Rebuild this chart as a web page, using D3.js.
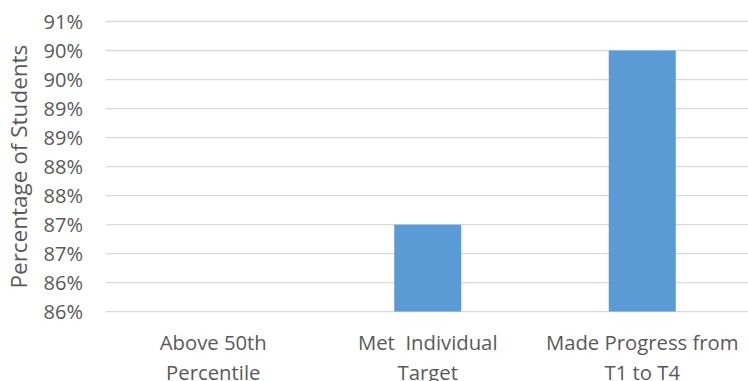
<!DOCTYPE html>
<html><head><meta charset="utf-8">
<script src="https://cdn.jsdelivr.net/npm/d3@7"></script>
<style>body{margin:0;background:#fff}svg{display:block}</style>
</head><body>
<script>
const categories = [["Above 50th","Percentile"],["Met  Individual","Target"],["Made Progress from","T1 to T4"]];
const values = [0.85, 0.87, 0.90];
const tickValues = [0.855,0.86,0.865,0.87,0.875,0.88,0.885,0.89,0.895,0.90,0.905];
const tickLabels = ["86%","86%","87%","87%","88%","88%","89%","89%","90%","90%","91%"];

const W = 748, H = 381;
const pLeft = 106, pRight = 749.5, pTop = 21.5, pBottom = 311.7;
const font = "'Open Sans', sans-serif";
const textColor = "#595959";

const svg = d3.select("body").append("svg").attr("width", W).attr("height", H);

const x = d3.scaleBand().domain(d3.range(categories.length)).range([pLeft, pRight])
  .paddingInner(0.6876).paddingOuter(0.3438);
const y = d3.scaleLinear().domain([0.855, 0.905]).range([pBottom, pTop]);

// gridlines
svg.append("g").selectAll("line").data(tickValues).join("line")
  .attr("x1", pLeft).attr("x2", W)
  .attr("y1", d => y(d)).attr("y2", d => y(d))
  .attr("stroke", "#D9D9D9").attr("stroke-width", 1.3);

// tick labels
svg.append("g").selectAll("text").data(tickValues).join("text")
  .attr("x", 83).attr("y", d => y(d)).attr("dy", "0.36em")
  .attr("text-anchor", "end").attr("font-family", font).attr("font-size", 20)
  .attr("fill", textColor).text((d, i) => tickLabels[i]);

// clip
svg.append("clipPath").attr("id", "plot").append("rect")
  .attr("x", pLeft).attr("y", pTop - 2).attr("width", pRight - pLeft).attr("height", pBottom - pTop + 2);

svg.append("g").attr("clip-path", "url(#plot)").selectAll("rect").data(values).join("rect")
  .attr("x", (d, i) => x(i)).attr("width", x.bandwidth())
  .attr("y", d => Math.min(y(d), pBottom))
  .attr("height", d => Math.max(0, pBottom - y(d)))
  .attr("fill", "#5B9BD5");

// category labels
const cl = svg.append("g").selectAll("text").data(categories).join("text")
  .attr("text-anchor", "middle").attr("font-family", font).attr("font-size", 20.3)
  .attr("fill", textColor).style("white-space", "pre");
cl.each(function(d, i) {
  const t = d3.select(this);
  d.forEach((line, j) => {
    t.append("tspan").attr("x", x(i) + x.bandwidth() / 2).attr("y", 350 + j * 29.5).text(line);
  });
});

// axis title
svg.append("text")
  .attr("transform", `translate(27,${(pTop + pBottom) / 2}) rotate(-90)`)
  .attr("text-anchor", "middle").attr("font-family", font).attr("font-size", 22.5)
  .attr("fill", textColor).text("Percentage of Students");
</script>
</body></html>
